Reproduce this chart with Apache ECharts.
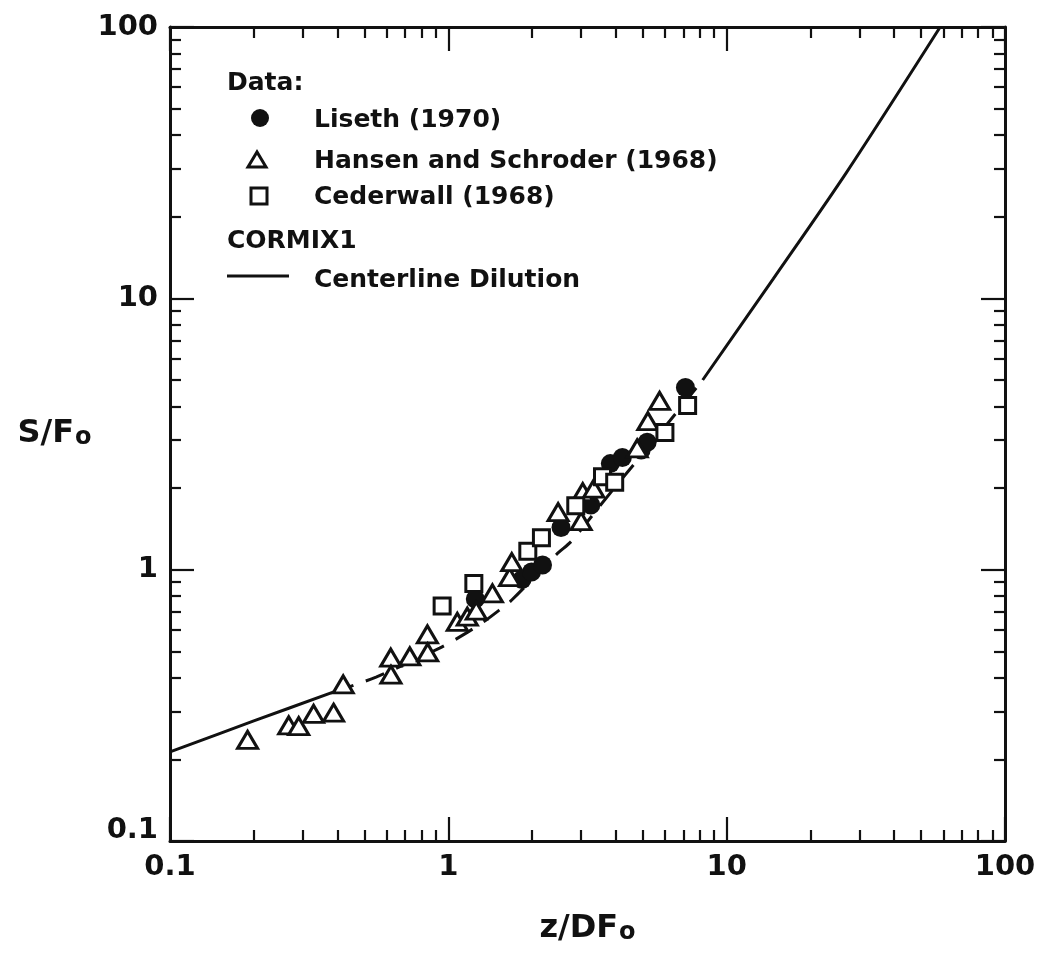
<!DOCTYPE html>
<html>
<head>
<meta charset="utf-8">
<script src="https://cdn.jsdelivr.net/npm/echarts@6/dist/echarts.min.js"></script>
<style>
  html, body { margin: 0; padding: 0; background: #ffffff; }
  #chart { width: 1039px; height: 961px; }
</style>
</head>
<body>
<div id="chart"></div>
<script>
// ---- data ----
const xTickValues = [0.1, 1, 10, 100];
const xTickLabels = ['0.1', '1', '10', '100'];
const yTickValues = [0.1, 1, 10, 100];
const yTickLabels = ['0.1', '1', '10', '100'];
const minorTickValues = [0.2, 0.3, 0.4, 0.5, 0.6, 0.7, 0.8, 0.9,
                         2, 3, 4, 5, 6, 7, 8, 9,
                         20, 30, 40, 50, 60, 70, 80, 90];

const lisethData = [[1.25, 0.78], [1.84, 0.92], [1.99, 0.98], [2.18, 1.04], [2.54, 1.43],
                    [3.25, 1.73], [3.82, 2.46], [4.22, 2.59], [4.93, 2.76], [5.18, 2.95], [7.11, 4.69]];
const hansenData = [[0.19, 0.236], [0.267, 0.267], [0.29, 0.265], [0.328, 0.294], [0.387, 0.297],
                    [0.419, 0.378], [0.621, 0.474], [0.622, 0.41], [0.727, 0.479], [0.841, 0.578],
                    [0.843, 0.496], [1.077, 0.642], [1.17, 0.671], [1.26, 0.707], [1.44, 0.818],
                    [1.66, 0.939], [1.69, 1.067], [2.48, 1.63], [3.0, 1.51], [3.04, 1.93],
                    [3.33, 1.99], [4.77, 2.8], [5.21, 3.53], [5.74, 4.19]];
const cederwallData = [[0.95, 0.734], [1.235, 0.889], [1.93, 1.17], [2.16, 1.31], [2.87, 1.72],
                       [3.58, 2.2], [3.96, 2.1], [6.0, 3.2], [7.24, 4.03]];

const centerlineNear = [[0.1, 0.213], [0.2, 0.277], [0.39, 0.355]];
const centerlineTransition = [[0.39, 0.355], [0.55, 0.402], [0.93, 0.514], [1.15, 0.581], [1.36, 0.65],
                              [1.52, 0.708], [1.69, 0.773], [2.45, 1.14], [2.77, 1.274], [3.68, 1.83],
                              [6.25, 3.54], [8.2, 5.0]];
const centerlineFar = [[8.2, 5.0], [14.7, 11.8], [27, 29.2], [58.5, 100]];

const legendHeaderData = 'Data:';
const legendHeaderModel = 'CORMIX1';
const seriesNames = ['Liseth (1970)', 'Hansen and Schroder (1968)', 'Cederwall (1968)', 'Centerline Dilution'];
const xAxisName = ['z/DF', 'o'];
const yAxisName = ['S/F', 'o'];

// ---- styles ----
const FONT = 'DejaVu Sans';
const INK = '#111111';
const LEGEND_FONT = 'bold 25px "' + FONT + '"';

function tickIndex(values, v) {
  let best = 0, bd = Infinity;
  for (let i = 0; i < values.length; i++) {
    const d = Math.abs(Math.log10(v) - Math.log10(values[i]));
    if (d < bd) { bd = d; best = i; }
  }
  return best;
}

function majorAxis(position, showLabel, values, labels, extra, raiseFirst) {
  const labelRich = {
    low: { fontFamily: FONT, fontWeight: 'bold', fontSize: 29, color: INK, padding: [0, 0, 22, 0] }
  };
  return Object.assign({
    type: 'log', logBase: 10, min: 0.1, max: 100, position: position,
    axisLine: { show: true, onZero: false, lineStyle: { color: INK, width: 3 } },
    axisTick: { show: true, inside: true, length: 24, customValues: values,
                lineStyle: { color: INK, width: 2.2 } },
    axisLabel: { show: showLabel, customValues: values,
                 formatter: function (v) {
                   const i = tickIndex(values, v);
                   return (raiseFirst && i === 0) ? '{low|' + labels[i] + '}' : labels[i];
                 },
                 rich: labelRich,
                 fontFamily: FONT, fontWeight: 'bold', fontSize: 29, color: INK, margin: 12 },
    splitLine: { show: false },
    minorTick: { show: false }
  }, extra || {});
}
function minorAxis(position) {
  return {
    type: 'log', logBase: 10, min: 0.1, max: 100, position: position,
    axisLine: { show: false },
    axisTick: { show: true, inside: true, length: 11, customValues: minorTickValues,
                lineStyle: { color: INK, width: 2.2 } },
    axisLabel: { show: false },
    splitLine: { show: false }
  };
}

const nameRich = {
  m: { fontFamily: FONT, fontWeight: 'bold', fontSize: 32, color: INK },
  s: { fontFamily: FONT, fontWeight: 'bold', fontSize: 24, color: INK,
       verticalAlign: 'bottom', lineHeight: 24, padding: [28, 0, 0, 1] }
};

const chart = echarts.init(document.getElementById('chart'), null, { renderer: 'canvas' });

const option = {
  backgroundColor: '#ffffff',
  animation: false,
  grid: { left: 170, right: 34, top: 27, bottom: 120 },
  xAxis: [
    majorAxis('bottom', true, xTickValues, xTickLabels, {
      name: '{m|' + xAxisName[0] + '}{s|' + xAxisName[1] + '}',
      nameLocation: 'middle', nameGap: 72,
      nameTextStyle: { rich: nameRich }
    }, false),
    majorAxis('top', false, xTickValues, xTickLabels),
    minorAxis('bottom'),
    minorAxis('top')
  ],
  yAxis: [
    majorAxis('left', true, yTickValues, yTickLabels, {
      name: '{m|' + yAxisName[0] + '}{s|' + yAxisName[1] + '}',
      nameLocation: 'middle', nameGap: 78, nameRotate: 0,
      nameTextStyle: { rich: nameRich }
    }, true),
    majorAxis('right', false, yTickValues, yTickLabels),
    minorAxis('left'),
    minorAxis('right')
  ],
  series: [
    {
      name: seriesNames[3], type: 'line', data: centerlineNear, showSymbol: false,
      lineStyle: { color: INK, width: 3 }, smooth: 0.3, z: 1
    },
    {
      name: seriesNames[3], type: 'line', data: centerlineTransition, showSymbol: false,
      lineStyle: { color: INK, width: 3, type: [20, 13] }, smooth: 0.3, z: 1
    },
    {
      name: seriesNames[3], type: 'line', data: centerlineFar, showSymbol: false,
      lineStyle: { color: INK, width: 3 }, smooth: 0.3, z: 1
    },
    {
      name: seriesNames[0], type: 'scatter', data: lisethData, symbol: 'circle', symbolSize: 19,
      itemStyle: { color: INK, opacity: 1 }, z: 2
    },
    {
      name: seriesNames[1], type: 'scatter', data: hansenData, symbol: 'triangle', symbolSize: [20, 17],
      itemStyle: { color: '#ffffff', borderColor: INK, borderWidth: 3, opacity: 1 }, z: 3
    },
    {
      name: seriesNames[2], type: 'scatter', data: cederwallData, symbol: 'rect', symbolSize: 16,
      itemStyle: { color: '#ffffff', borderColor: INK, borderWidth: 3, opacity: 1 }, z: 4
    }
  ],
  graphic: [
    { type: 'text', x: 227, y: 83, style: { text: legendHeaderData, font: LEGEND_FONT, fill: INK, verticalAlign: 'middle', align: 'left' } },
    { type: 'circle', shape: { cx: 260, cy: 118, r: 9 }, style: { fill: INK } },
    { type: 'text', x: 314, y: 120, style: { text: seriesNames[0], font: LEGEND_FONT, fill: INK, verticalAlign: 'middle', align: 'left' } },
    { type: 'polygon', shape: { points: [[248, 167], [266, 167], [257, 152]] }, style: { fill: '#ffffff', stroke: INK, lineWidth: 3 } },
    { type: 'text', x: 314, y: 161, style: { text: seriesNames[1], font: LEGEND_FONT, fill: INK, verticalAlign: 'middle', align: 'left' } },
    { type: 'rect', shape: { x: 251, y: 188, width: 16, height: 16 }, style: { fill: '#ffffff', stroke: INK, lineWidth: 3 } },
    { type: 'text', x: 314, y: 197, style: { text: seriesNames[2], font: LEGEND_FONT, fill: INK, verticalAlign: 'middle', align: 'left' } },
    { type: 'text', x: 227, y: 241, style: { text: legendHeaderModel, font: LEGEND_FONT, fill: INK, verticalAlign: 'middle', align: 'left' } },
    { type: 'line', shape: { x1: 227, y1: 276, x2: 289, y2: 276 }, style: { stroke: INK, lineWidth: 3 } },
    { type: 'text', x: 314, y: 280, style: { text: seriesNames[3], font: LEGEND_FONT, fill: INK, verticalAlign: 'middle', align: 'left' } }
  ]
};
chart.setOption(option);
</script>
</body>
</html>
